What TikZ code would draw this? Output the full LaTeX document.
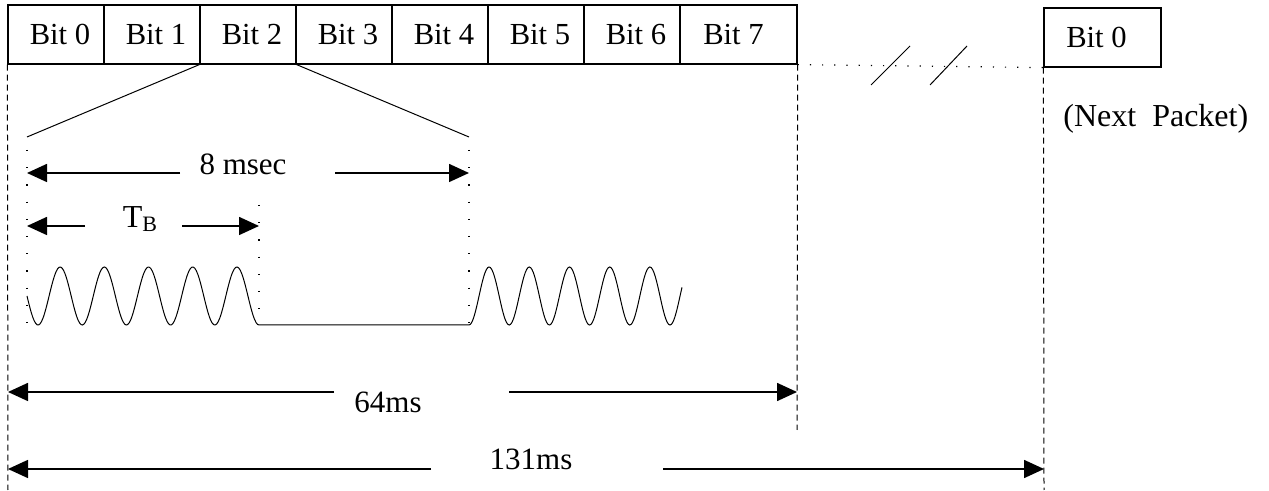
\documentclass[tikz,border=0pt]{standalone}
\usepackage{fontspec}
\setmainfont{Liberation Serif}
\usetikzlibrary{arrows.meta}

\begin{document}
\begin{tikzpicture}[x=0.5pt,y=-0.5pt,
  bitbox/.style={draw,line width=0.6pt,minimum width=48pt,minimum height=29.5pt,inner sep=0pt,font=\fontsize{15.3}{17}\selectfont},
  lbl/.style={inner sep=0pt,anchor=base,font=\fontsize{15.5}{17}\selectfont},
  dim/.style={line width=0.8pt,-{Triangle[length=10pt,width=9pt]}},
  bound/.style={line width=0.5pt,dash pattern=on 3pt off 2pt},
  guide/.style={line width=0.6pt,dash pattern=on 0.6pt off 8pt},
  dotline/.style={line width=0.6pt,dash pattern=on 0.6pt off 5.5pt}]
\useasboundingbox (0,0) rectangle (1269,491);
\foreach \i in {0,...,6}
  \node[bitbox] (b\i) at ({56+96*\i},34.5) {\hspace*{4pt}Bit \i};
\node[bitbox,minimum width=58.5pt] (b7) at (738.5,34.5) {Bit 7\hspace*{5pt}};
\node[bitbox,minimum width=58.5pt] (nb0) at (1102.5,37.5) {Bit 0\hspace*{6pt}};
\node[lbl,anchor=base west,font=\fontsize{16}{18}\selectfont] (np) at (1063,127) {(Next\ \ Packet)};
\coordinate (d0) at (8,490);
\coordinate (d7) at (797,430);
\coordinate (dn) at (1044,490);
\draw[bound] (b0.south west) -- (d0);
\draw[bound] (b7.south east) -- (d7);
\draw[bound] (nb0.south west) -- (dn);
\draw[dotline] (b7.south east) -- (nb0.south west);
\draw[line width=0.5pt] (871,85) -- (910,46) (930,85) -- (967,46);
\coordinate (zl) at (27,137);
\coordinate (zr) at (469,137);
\draw[line width=0.5pt] (b2.south west) -- (zl) (b2.south east) -- (zr);
\draw[guide] (27,150) -- (27,325) (469,150) -- (469,325) (259,205) -- (259,325);
\node[lbl] (t8) at (243,175) {8 msec};
\coordinate (e8l) at (27,173); \coordinate (g8l) at (180,173);
\coordinate (e8r) at (469,173); \coordinate (g8r) at (335,173);
\draw[dim] (g8l) -- (e8l);
\draw[dim] (g8r) -- (e8r);
\node[lbl,font=\fontsize{16}{17}\selectfont] (tb) at (140,228) {T\raisebox{-0.25ex}{\fontsize{11}{12}\selectfont B}};
\coordinate (ebl) at (27,226); \coordinate (gbl) at (85,226);
\coordinate (ebr) at (259,226); \coordinate (gbr) at (182,226);
\draw[dim] (gbl) -- (ebl);
\draw[dim] (gbr) -- (ebr);
\draw[line width=0.5pt] plot[domain=27:259,samples=160,smooth] (\x,{296+29*sin(8.147*(\x-27))})
  -- plot[domain=469:682,samples=160,smooth] (\x,{296+29*cos(8.955*(\x-469))});
\node[lbl] (t64) at (388,413) {64ms};
\coordinate (e64l) at (8,392); \coordinate (g64l) at (334,392);
\coordinate (e64r) at (797,392); \coordinate (g64r) at (509,392);
\draw[dim] (g64l) -- (e64l);
\draw[dim] (g64r) -- (e64r);
\node[lbl] (t131) at (531,470) {131ms};
\coordinate (e131l) at (8,469); \coordinate (g131l) at (431,469);
\coordinate (e131r) at (1044,469); \coordinate (g131r) at (663,469);
\draw[dim] (g131l) -- (e131l);
\draw[dim] (g131r) -- (e131r);
\end{tikzpicture}
\end{document}
